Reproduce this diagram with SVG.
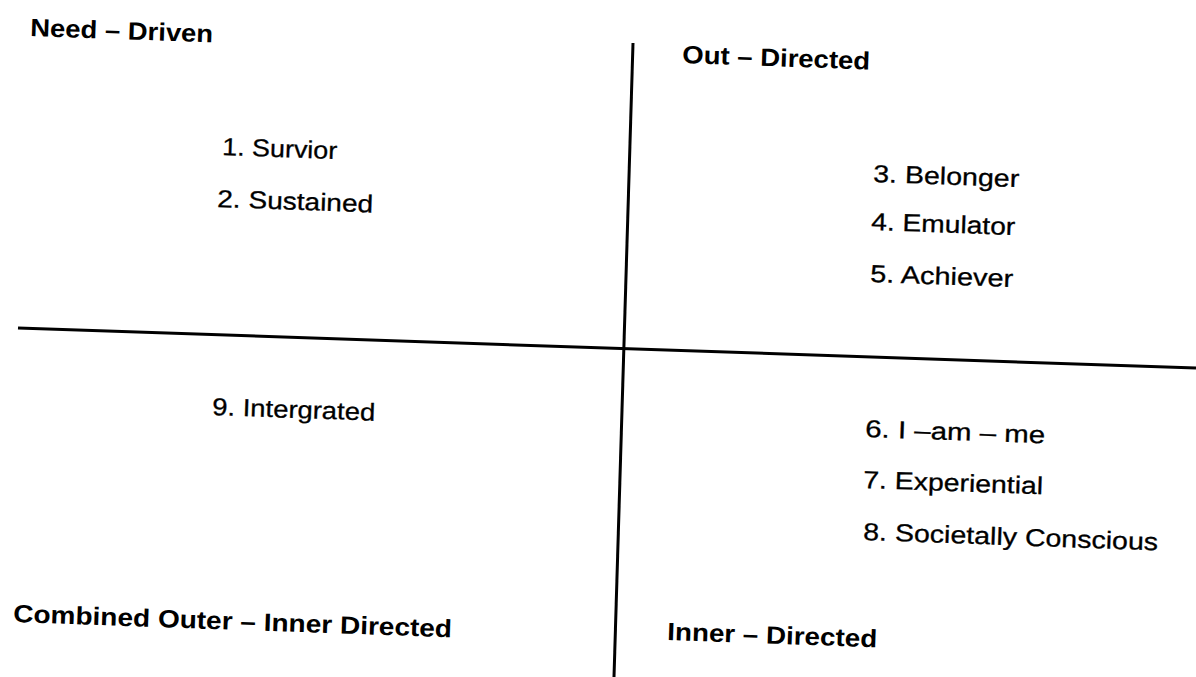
<svg xmlns="http://www.w3.org/2000/svg" width="1196" height="677" viewBox="0 0 1196 677">
<style>
.ax{stroke:#000;stroke-width:3;fill:none;stroke-linecap:butt}
.h{font-family:"Liberation Sans",Arial,sans-serif;font-weight:bold;font-size:25px;fill:#000}
.t{font-family:"Liberation Sans",Arial,sans-serif;font-size:24.5px;fill:#000;stroke:#000;stroke-width:0.3}
</style>
<rect width="1196" height="677" fill="#fff"/>
<g id="connectors">
<line class="ax" x1="633" y1="43" x2="614" y2="677"/>
<line class="ax" x1="18" y1="328" x2="1196" y2="368"/>
</g>
<g id="need-driven">
<text class="h" x="30" y="36" transform="rotate(2 30 36)" textLength="183" lengthAdjust="spacingAndGlyphs">Need – Driven</text>
<text class="t" x="222" y="155" transform="rotate(2 222 155)" textLength="115" lengthAdjust="spacingAndGlyphs">1. Survior</text>
<text class="t" x="217" y="207" transform="rotate(2 217 207)" textLength="156" lengthAdjust="spacingAndGlyphs">2. Sustained</text>
</g>
<g id="out-directed">
<text class="h" x="682" y="63" transform="rotate(2 682 63)" textLength="188" lengthAdjust="spacingAndGlyphs">Out – Directed</text>
<text class="t" x="873" y="182" transform="rotate(2 873 182)" textLength="146" lengthAdjust="spacingAndGlyphs">3. Belonger</text>
<text class="t" x="871" y="230" transform="rotate(2 871 230)" textLength="144" lengthAdjust="spacingAndGlyphs">4. Emulator</text>
<text class="t" x="870" y="282" transform="rotate(2 870 282)" textLength="143" lengthAdjust="spacingAndGlyphs">5. Achiever</text>
</g>
<g id="combined">
<text class="t" x="212" y="415" transform="rotate(2 212 415)" textLength="163" lengthAdjust="spacingAndGlyphs">9. Intergrated</text>
<text class="h" x="13" y="622" transform="rotate(2 13 622)" textLength="439" lengthAdjust="spacingAndGlyphs">Combined Outer – Inner Directed</text>
</g>
<g id="inner-directed">
<text class="t" x="865" y="437" transform="rotate(2 865 437)" textLength="180" lengthAdjust="spacingAndGlyphs">6. I –am – me</text>
<text class="t" x="863" y="488" transform="rotate(2 863 488)" textLength="180" lengthAdjust="spacingAndGlyphs">7. Experiential</text>
<text class="t" x="863" y="540" transform="rotate(2 863 540)" textLength="295" lengthAdjust="spacingAndGlyphs">8. Societally Conscious</text>
<text class="h" x="667" y="640" transform="rotate(2 667 640)" textLength="210" lengthAdjust="spacingAndGlyphs">Inner – Directed</text>
</g>
</svg>
